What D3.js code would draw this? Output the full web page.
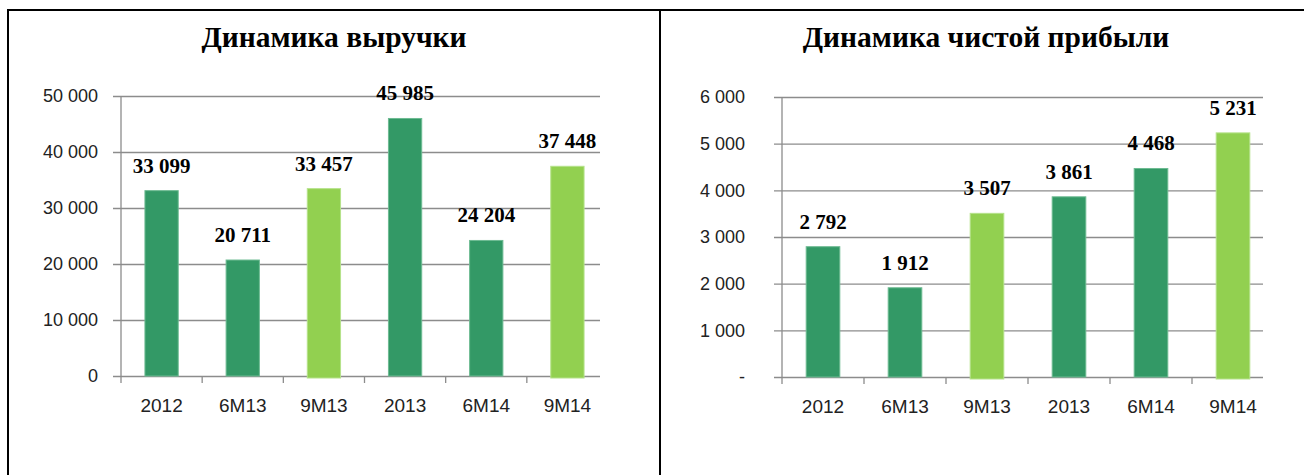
<!DOCTYPE html>
<html>
<head>
<meta charset="utf-8">
<script src="https://cdn.jsdelivr.net/npm/d3@7"></script>
<style>
  body { margin: 0; background: #fff; }
  .title { font-family: "Liberation Serif", serif; font-weight: bold; font-size: 29.5px; fill: #000; }
  .value { font-family: "Liberation Serif", serif; font-weight: bold; font-size: 21px; fill: #000; }
  .tick text { font-family: "Liberation Sans", Arial, sans-serif; fill: #222; }
</style>
</head>
<body>
<div id="chart"></div>
<script>
var width = 1304
var height = 475

const categories = ["2012", "6M13", "9M13", "2013", "6M14", "9M14"];
const revenue = [33099, 20711, 33457, 45985, 24204, 37448];
const netProfit = [2792, 1912, 3507, 3861, 4468, 5231];
const revenueTicks = [0, 10000, 20000, 30000, 40000, 50000];
const profitTicks = [0, 1000, 2000, 3000, 4000, 5000, 6000];
const lightCats = ["9M13", "9M14"];

const ru = d3.formatLocale({decimal: ",", thousands: "\u00a0", grouping: [3], currency: ["", ""]});
const fmt = ru.format(",");

var svg = d3.select("#chart").append("svg")
    .attr("width", width)
    .attr("height", height)

// frame
svg.append("line").attr("x1", 7).attr("x2", width).attr("y1", 10).attr("y2", 10)
    .attr("stroke", "#000").attr("stroke-width", 2)
svg.append("line").attr("x1", 8).attr("x2", 8).attr("y1", 9).attr("y2", height)
    .attr("stroke", "#000").attr("stroke-width", 2)
svg.append("line").attr("x1", 660).attr("x2", 660).attr("y1", 9).attr("y2", height)
    .attr("stroke", "#000").attr("stroke-width", 2)

const renderBars = (opt) => {
    const data = categories.map((c, i) => ({cat: c, value: opt.values[i]}));

    const xScale = d3.scaleBand()
        .domain(categories)
        .range([opt.left, opt.right])
        .padding(0);

    const yScale = d3.scaleLinear()
        .domain([0, d3.max(opt.ticks)])
        .range([opt.bottom, opt.top]);

    const g = svg.append("g");

    // title
    g.append("text")
        .attr("class", "title")
        .attr("x", opt.titleX)
        .attr("y", 47)
        .attr("text-anchor", "middle")
        .text(opt.title);

    // y axis with gridlines
    const yAxis = d3.axisLeft(yScale)
        .tickValues(opt.ticks)
        .tickFormat(opt.tickFormat)
        .tickSize(0)
        .tickPadding(opt.labelPad);

    const yAxisG = g.append("g")
        .attr("transform", `translate(${opt.left}, 0)`)
        .call(yAxis);
    yAxisG.select(".domain").remove();
    yAxisG.selectAll(".tick text").style("font-size", opt.yFont);
    yAxisG.selectAll(".tick").append("line")
        .attr("x1", -8)
        .attr("x2", opt.gridEnd - opt.left)
        .attr("stroke", "#8c8c8c")
        .attr("stroke-width", 1.3);

    // y axis line
    g.append("line")
        .attr("x1", opt.left).attr("x2", opt.left)
        .attr("y1", opt.top).attr("y2", opt.bottom + 7)
        .attr("stroke", "#8c8c8c").attr("stroke-width", 1.3);

    // x axis: ticks at band boundaries
    const xAxisG = g.append("g")
        .attr("transform", `translate(0, ${opt.bottom})`)
        .call(d3.axisBottom(xScale).tickSize(0).tickPadding(23));
    xAxisG.select(".domain").remove();
    xAxisG.selectAll(".tick text").style("font-size", "19px").attr("fill", "#222");

    g.selectAll(".xtick").data(categories.slice(1))
        .enter().append("line")
        .attr("x1", d => xScale(d)).attr("x2", d => xScale(d))
        .attr("y1", opt.bottom).attr("y2", opt.bottom + 7)
        .attr("stroke", "#8c8c8c").attr("stroke-width", 1.3);

    const barW = xScale.bandwidth() * 0.41;

    g.selectAll("rect.bar").data(data)
        .enter().append("rect")
        .attr("class", "bar")
        .attr("x", d => xScale(d.cat) + (xScale.bandwidth() - barW) / 2)
        .attr("y", d => yScale(d.value))
        .attr("width", barW)
        .attr("height", d => opt.bottom - yScale(d.value) + (lightCats.includes(d.cat) ? 2 : 0))
        .attr("fill", d => lightCats.includes(d.cat) ? "#92d050" : "#339966")
        .attr("stroke", d => lightCats.includes(d.cat) ? "#b5e28a" : "#6dbb92")
        .attr("stroke-width", 1);

    g.selectAll("text.value").data(data)
        .enter().append("text")
        .attr("class", "value")
        .attr("x", d => xScale(d.cat) + xScale.bandwidth() / 2)
        .attr("y", d => yScale(d.value) - 18)
        .attr("text-anchor", "middle")
        .text(d => fmt(d.value));
}

renderBars({
    title: "Динамика выручки",
    titleX: 334,
    values: revenue,
    ticks: revenueTicks,
    tickFormat: d => fmt(d),
    left: 121, right: 608, gridEnd: 600,
    top: 96, bottom: 376,
    labelPad: 23, yFont: "18px"
});

renderBars({
    title: "Динамика чистой прибыли",
    titleX: 986,
    values: netProfit,
    ticks: profitTicks,
    tickFormat: d => d === 0 ? "-" : fmt(d),
    left: 782, right: 1274, gridEnd: 1263,
    top: 97, bottom: 377,
    labelPad: 37, yFont: "18px"
});
</script>
</body>
</html>
